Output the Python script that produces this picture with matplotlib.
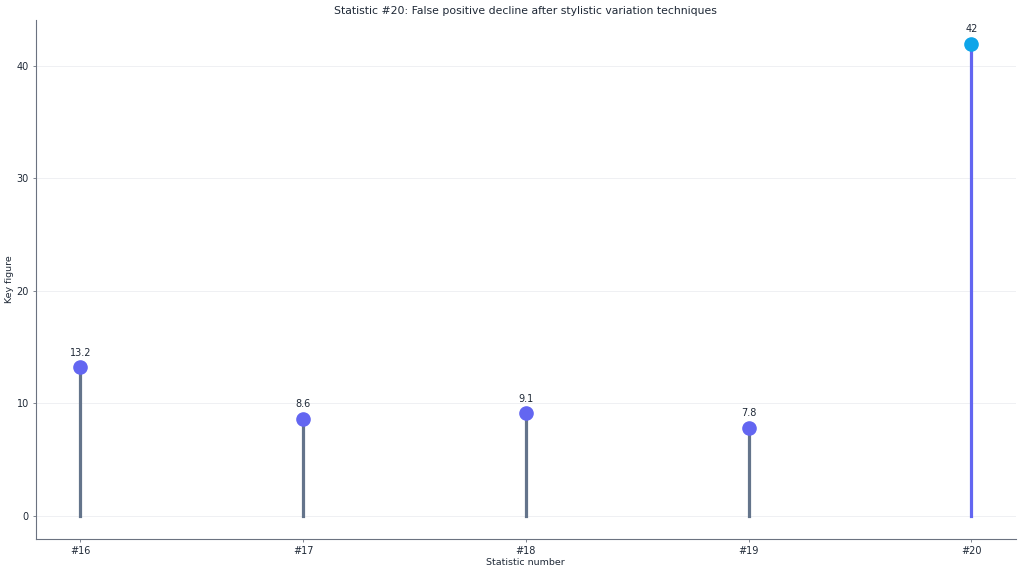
import matplotlib.pyplot as plt

labels = ["#16", "#17", "#18", "#19", "#20"]
values = [13.2, 8.6, 9.1, 7.8, 42]
value_text = ["13.2", "8.6", "9.1", "7.8", "42"]

text_color = "#1f2937"
stem_gray = "#64748b"
dot_blue = "#6366f1"
dot_sky = "#0ea5e9"
axis_gray = "#6b7280"

fig = plt.figure(figsize=(10.24, 5.73), dpi=100)
ax = fig.add_axes([0.035, 0.059, 0.957, 0.906])

x = list(range(len(labels)))
for i, v in enumerate(values):
    last = i == len(values) - 1
    ax.plot([i, i], [0, v], color=dot_blue if last else stem_gray, lw=2.3, zorder=2)
    ax.plot(i, v, "o", color=dot_sky if last else dot_blue, ms=9.5, zorder=3)
    ax.annotate(value_text[i], (i, v), xytext=(0, 7), textcoords="offset points",
                ha="center", va="bottom", fontsize=7, color=text_color)

ax.set_xticks(x)
ax.set_xticklabels(labels)
ax.set_xlim(-0.2, 4.2)
ax.set_ylim(-2.1, 44.1)
ax.set_yticks([0, 10, 20, 30, 40])
ax.grid(axis="y", color="#e5e7eb", lw=0.6, alpha=0.7)
ax.set_axisbelow(True)

ax.set_title("Statistic #20: False positive decline after stylistic variation techniques",
             fontsize=7.8, color=text_color, pad=4)
ax.set_xlabel("Statistic number", fontsize=6.8, color=text_color, labelpad=1)
ax.set_ylabel("Key figure", fontsize=6.8, color=text_color, labelpad=2)

for s in ["top", "right"]:
    ax.spines[s].set_visible(False)
for s in ["left", "bottom"]:
    ax.spines[s].set_color(axis_gray)
    ax.spines[s].set_linewidth(0.8)
ax.tick_params(labelsize=7, labelcolor=text_color, color=axis_gray, length=2.5, width=0.6, pad=2.5)

fig.savefig("out.png", dpi=100)
